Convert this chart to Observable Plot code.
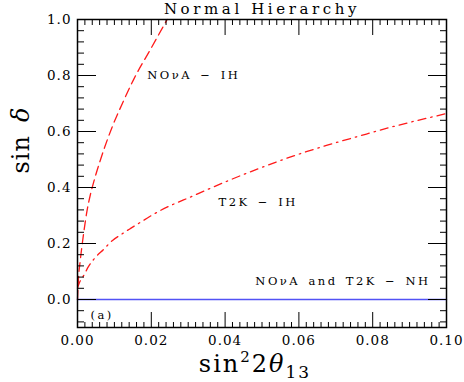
<!DOCTYPE html>
<html>
<head>
<meta charset="utf-8">
<script src="https://cdn.jsdelivr.net/npm/d3@7"></script>
<script src="https://cdn.jsdelivr.net/npm/@observablehq/plot@0.6"></script>
<style>
  html, body { margin: 0; padding: 0; background: #fff; }
</style>
</head>
<body>
<div id="chart"></div>
<script>
// ---- data ----
const novaIH_x = [0, 0.0002, 0.0008, 0.0015, 0.0026, 0.0035, 0.0044, 0.006, 0.0094, 0.0125, 0.0153, 0.0198, 0.0243];
const novaIH_y = [0, 0.06, 0.145, 0.22, 0.318, 0.375, 0.42, 0.49, 0.616, 0.71, 0.788, 0.894, 1.0];

const t2kIH_x = [0, 0.0004, 0.0017, 0.003, 0.0049, 0.007, 0.0094, 0.0118, 0.0144, 0.0171, 0.0198, 0.0225, 0.0315, 0.0406, 0.0496, 0.0586, 0.0677, 0.0767, 0.0857, 0.1];
const t2kIH_y = [0.04, 0.056, 0.086, 0.118, 0.151, 0.178, 0.21, 0.232, 0.254, 0.276, 0.298, 0.318, 0.371, 0.423, 0.47, 0.513, 0.551, 0.585, 0.618, 0.664];

const nh_x = [0, 0.1];
const nh_y = [0, 0];

const xMajorTicks = [0, 0.02, 0.04, 0.06, 0.08, 0.10];
const yMajorTicks = [0, 0.2, 0.4, 0.6, 0.8, 1.0];
const xMinorTicks = [0.002, 0.004, 0.006, 0.008, 0.010, 0.012, 0.014, 0.016, 0.018,
  0.022, 0.024, 0.026, 0.028, 0.030, 0.032, 0.034, 0.036, 0.038,
  0.042, 0.044, 0.046, 0.048, 0.050, 0.052, 0.054, 0.056, 0.058,
  0.062, 0.064, 0.066, 0.068, 0.070, 0.072, 0.074, 0.076, 0.078,
  0.082, 0.084, 0.086, 0.088, 0.090, 0.092, 0.094, 0.096, 0.098];
const yMinorTicks = [-0.08, -0.04, 0.04, 0.08, 0.12, 0.16, 0.24, 0.28, 0.32, 0.36,
  0.44, 0.48, 0.52, 0.56, 0.64, 0.68, 0.72, 0.76, 0.84, 0.88, 0.92, 0.96];

const annotationText = ["NOνA\u2002−\u2002IH", "T2K\u2002−\u2002IH", "NOνA\u2002and\u2002T2K\u2002−\u2002NH", "(a)"];
const annotationX = [0.0189, 0.0382, 0.0482, 0.0035];
const annotationY = [0.80, 0.346, 0.066, -0.057];

const titleText = "Normal Hierarchy";
const xLabelText = "sin²2θ₁₃";
const yLabelText = "sin\u2002δ";

// ---- build tables ----
const nova = novaIH_x.map((x, i) => ({x, y: novaIH_y[i]}));
const t2k = t2kIH_x.map((x, i) => ({x, y: t2kIH_y[i]}));
const nh = nh_x.map((x, i) => ({x, y: nh_y[i]}));
const annotations = annotationText.map((t, i) => ({t, x: annotationX[i], y: annotationY[i]}));

const noText = () => "";
// inward ticks drawn by axis marks (negative tick size points into the frame)
const tickAxes = [
  Plot.axisX({anchor: "bottom", ticks: xMajorTicks, tickSize: -15, tickFormat: noText, label: null, stroke: "black"}),
  Plot.axisX({anchor: "top", ticks: xMajorTicks, tickSize: -15, tickFormat: noText, label: null, stroke: "black"}),
  Plot.axisX({anchor: "bottom", ticks: xMinorTicks, tickSize: -5, tickFormat: noText, label: null, stroke: "black"}),
  Plot.axisX({anchor: "top", ticks: xMinorTicks, tickSize: -5, tickFormat: noText, label: null, stroke: "black"}),
  Plot.axisY({anchor: "left", ticks: yMajorTicks, tickSize: -19, tickFormat: noText, label: null, stroke: "black"}),
  Plot.axisY({anchor: "right", ticks: yMajorTicks, tickSize: -19, tickFormat: noText, label: null, stroke: "black"}),
  Plot.axisY({anchor: "left", ticks: yMinorTicks, tickSize: -7, tickFormat: noText, label: null, stroke: "black"}),
  Plot.axisY({anchor: "right", ticks: yMinorTicks, tickSize: -7, tickFormat: noText, label: null, stroke: "black"})
];

const plotSvg = Plot.plot({
  width: 464, height: 382,
  marginLeft: 77, marginRight: 18, marginTop: 19, marginBottom: 55,
  style: {fontFamily: "DejaVu Serif", background: "white", color: "black"},
  x: {domain: [0, 0.1]},
  y: {domain: [-0.1, 1.0]},
  marks: [
    Plot.line(nh, {x: "x", y: "y", stroke: "#5252f5", strokeWidth: 1.5}),
    Plot.line(nova, {x: "x", y: "y", stroke: "#ff1a1a", strokeWidth: 1.3, strokeDasharray: "9,5", curve: "monotone-x"}),
    Plot.line(t2k, {x: "x", y: "y", stroke: "#ff1a1a", strokeWidth: 1.3, strokeDasharray: "8,5,1.5,5", curve: "monotone-x"}),
    ...tickAxes,
    Plot.frame({stroke: "black", strokeWidth: 1.5}),
    Plot.axisX({anchor: "bottom", ticks: xMajorTicks, tickSize: 0, tickPadding: 8, tickFormat: d3.format(".2f"), fontSize: 13.5, label: null}),
    Plot.axisY({anchor: "left", ticks: yMajorTicks, tickSize: 0, tickPadding: 6, tickFormat: d3.format(".1f"), fontSize: 13.5, label: null}),
    Plot.text(annotations, {x: "x", y: "y", text: "t", textAnchor: "start", lineAnchor: "middle", fontSize: 11.5, fill: "black"}),
    Plot.text([titleText], {text: d => d, frameAnchor: "top", dy: -10.3, lineAnchor: "middle", fontSize: 15, fill: "black"}),
    Plot.text([xLabelText], {text: d => d, frameAnchor: "bottom", dy: 37, dx: -7, lineAnchor: "middle", fontSize: 24, fill: "black"}),
    Plot.text([yLabelText], {text: d => d, frameAnchor: "left", dx: -56, rotate: -90, lineAnchor: "middle", fontSize: 24, fill: "black"})
  ]
});

const sel = d3.select(plotSvg);
const tickLabels = new Set([...xMajorTicks.map(d3.format(".2f")), ...yMajorTicks.map(d3.format(".1f"))]);
sel.selectAll("text").each(function () {
  const el = d3.select(this);
  const t = this.textContent;
  if (t === titleText) {
    el.attr("letter-spacing", "3.6px");
  } else if (annotationText.includes(t)) {
    el.attr("letter-spacing", "2.5px");
  } else if (tickLabels.has(t)) {
    el.attr("letter-spacing", "1px");
  } else if (t === yLabelText) {
    el.text(null).attr("letter-spacing", "1px");
    el.append("tspan").text("sin\u2002");
    el.append("tspan").attr("font-style", "italic").text("δ");
  } else if (t === xLabelText) {
    el.text(null).attr("letter-spacing", "2px");
    el.append("tspan").text("sin");
    el.append("tspan").attr("font-size", 15).attr("dy", -10).text("2");
    el.append("tspan").attr("dy", 10).text("2");
    el.append("tspan").attr("font-style", "italic").text("θ");
    el.append("tspan").attr("font-size", 17).attr("dy", 6).text("13");
  }
});

document.getElementById("chart").appendChild(plotSvg);
</script>
</body>
</html>
